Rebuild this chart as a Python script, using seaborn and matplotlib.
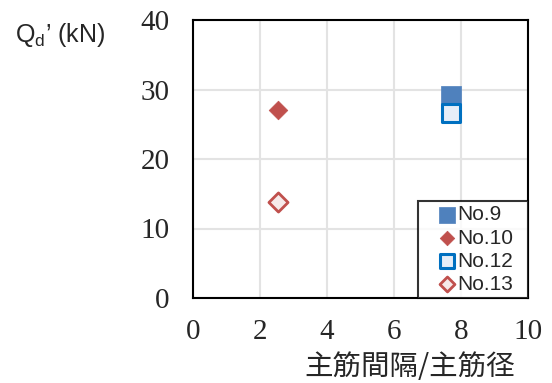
import matplotlib
matplotlib.use("Agg")
import matplotlib.pyplot as plt
import seaborn as sns
import pandas as pd

# Spacing ratio (main bar spacing / bar diameter) vs. Qd' for each specimen
specimens = ["No.9", "No.10", "No.12", "No.13"]
spacing_ratio = [7.7, 2.55, 7.7, 2.55]
qd_kn = [29.0, 27.0, 26.6, 13.8]

x_ticks = [0, 2, 4, 6, 8, 10]
y_ticks = [0, 10, 20, 30, 40]

styles = {
    "No.9":  dict(marker="s", s=200, facecolor="#4F81BD", edgecolor="#4F81BD", linewidth=0.5),
    "No.10": dict(marker="D", s=90, facecolor="#C0504D", edgecolor="#C0504D", linewidth=0.5),
    "No.12": dict(marker="s", s=160, facecolor="#E6EEF8", edgecolor="#0070C0", linewidth=2.2),
    "No.13": dict(marker="D", s=95, facecolor="#F6EAEA", edgecolor="#C0504D", linewidth=2.0),
}

df = pd.DataFrame({"specimen": specimens, "ratio": spacing_ratio, "qd": qd_kn})

sns.set_style("white")
plt.rcParams["mathtext.fontset"] = "custom"
plt.rcParams["mathtext.rm"] = "Liberation Sans"

fig = plt.figure(figsize=(5.52, 3.83), dpi=100)
ax = fig.add_axes([193 / 552, 85 / 383, 335 / 552, 278 / 383])

for name in specimens:
    sub = df[df["specimen"] == name]
    st = styles[name]
    sns.scatterplot(data=sub, x="ratio", y="qd", ax=ax, label=name,
                    marker=st["marker"], s=st["s"], color=st["facecolor"],
                    edgecolor=st["edgecolor"], linewidth=st["linewidth"], zorder=3)

ax.set_xlim(0, 10)
ax.set_ylim(0, 40)
ax.set_xticks(x_ticks)
ax.set_yticks(y_ticks)
ax.set_xticklabels([str(v) for v in x_ticks], family="Liberation Serif", fontsize=21)
ax.set_yticklabels([str(v) for v in y_ticks], family="Liberation Serif", fontsize=21)
ax.tick_params(axis="x", length=0, pad=15)
ax.tick_params(axis="y", length=0, pad=17)

ax.grid(True, color="#E3E3E3", linewidth=1.5)
ax.set_axisbelow(True)
for sp in ax.spines.values():
    sp.set_color("black")
    sp.set_linewidth(1.5)

ax.set_ylabel("")
ax.set_xlabel("主筋間隔/主筋径", family=["Noto Sans CJK JP", "DejaVu Sans"], fontsize=20.5)
ax.xaxis.set_label_coords((410 - 193) / 335, (298 - 352) / 278)

fig.text(15 / 552, 1 - 42 / 383, "Q$_\\mathrm{d}$’ (kN)", family="Liberation Sans",
         fontsize=18, ha="left", va="baseline")

leg = ax.legend(loc="lower left", bbox_to_anchor=((418 - 193) / 335, 0, 110 / 335, 0.3),
                mode="expand", borderaxespad=0, frameon=True, fancybox=False,
                prop={"family": "Liberation Sans", "size": 15}, markerscale=0.78,
                handletextpad=-0.71, handlelength=2.38, labelspacing=0.2,
                borderpad=0.2)
leg.get_frame().set_edgecolor("black")
leg.get_frame().set_linewidth(1.5)

fig.savefig("out.png", dpi=100)
